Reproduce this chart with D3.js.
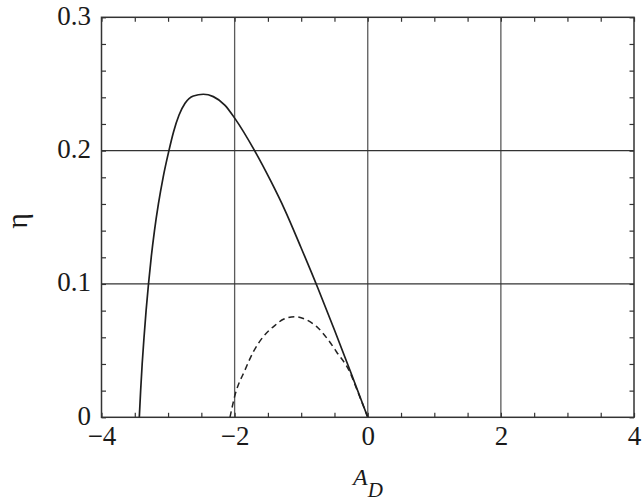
<!DOCTYPE html>
<html>
<head>
<meta charset="utf-8">
<script src="https://cdn.jsdelivr.net/npm/d3@7"></script>
<style>
  body { margin: 0; background: #fff; }
  svg { display: block; }
</style>
</head>
<body>
<svg id="chart" width="642" height="503"></svg>
<script>
// ---- data ----
const xMajorTicks = [-4, -2, 0, 2, 4];
const yMajorTicks = [0, 0.1, 0.2, 0.3];
const xGrid = [-2, 0, 2];
const yGrid = [0.1, 0.2];

// solid curve (A_D, eta)
const solidA = [-3.432, -3.412, -3.389, -3.361, -3.330, -3.294, -3.253, -3.204, -3.145, -3.074, -2.987, -2.918, -2.835, -2.745, -2.62, -2.47, -2.32, -2.144, -1.994, -1.70, -1.45, -1.25, -1.00, -0.75, -0.5, -0.25, 0];
const solidEta = [0, 0.02, 0.04, 0.06, 0.08, 0.10, 0.12, 0.14, 0.16, 0.18, 0.20, 0.214, 0.2267, 0.2355, 0.241, 0.2423, 0.2405, 0.234, 0.224, 0.20, 0.1765, 0.156, 0.127, 0.097, 0.0655, 0.033, 0];

// dashed curve (A_D, eta)
const dashA = [-2.07, -1.994, -1.844, -1.72, -1.569, -1.393, -1.268, -1.093, -0.917, -0.767, -0.593, -0.468, -0.265, -0.165, -0.065, 0];
const dashEta = [0, 0.0167, 0.0355, 0.049, 0.0605, 0.069, 0.0735, 0.0755, 0.073, 0.068, 0.058, 0.049, 0.0335, 0.021, 0.0084, 0];

// ---- layout ----
const FONT = '"Liberation Serif", "Times New Roman", Times, "DejaVu Serif", serif';
const svg = d3.select("#chart");
const L = 101.5, R = 634, T = 17.3, B = 417.3;
const x = d3.scaleLinear().domain([-4, 4]).range([L, R]);
const y = d3.scaleLinear().domain([0, 0.3]).range([B, T]);

const xMinor = d3.range(-4, 4.001, 0.5);
const yMinor = d3.range(0, 0.3001, 0.02);

// gridlines
svg.append("g").selectAll("line").data(xGrid).join("line")
  .attr("x1", d => x(d)).attr("x2", d => x(d)).attr("y1", T).attr("y2", B)
  .attr("stroke", "#5a5a5a").attr("stroke-width", 1.3);
svg.append("g").selectAll("line").data(yGrid).join("line")
  .attr("x1", L).attr("x2", R).attr("y1", d => y(d)).attr("y2", d => y(d))
  .attr("stroke", "#333").attr("stroke-width", 1.3);

// minor ticks (inward) on all sides
function styleTicks(g) {
  g.select(".domain").remove();
  g.selectAll("line").attr("stroke", "#333").attr("stroke-width", 1.2);
  g.selectAll("text").remove();
}
svg.append("g").attr("transform", `translate(0,${B})`)
  .call(d3.axisBottom(x).tickValues(xMinor).tickSize(-4.5).tickFormat("")).call(styleTicks);
svg.append("g").attr("transform", `translate(0,${T})`)
  .call(d3.axisTop(x).tickValues(xMinor).tickSize(-4.5).tickFormat("")).call(styleTicks);
svg.append("g").attr("transform", `translate(${L},0)`)
  .call(d3.axisLeft(y).tickValues(yMinor).tickSize(-4.5).tickFormat("")).call(styleTicks);
svg.append("g").attr("transform", `translate(${R},0)`)
  .call(d3.axisRight(y).tickValues(yMinor).tickSize(-4.5).tickFormat("")).call(styleTicks);

// major labels
const gx = svg.append("g").attr("transform", `translate(0,${B})`)
  .call(d3.axisBottom(x).tickValues(xMajorTicks).tickSize(0).tickPadding(8.5)
    .tickFormat(d => d3.format("d")(d)));
gx.select(".domain").remove();
gx.attr("font-family", null).attr("font-size", null);
gx.selectAll("text").style("font-family", FONT).style("font-size", "27px").attr("fill", "#1a1a1a");

const gy = svg.append("g").attr("transform", `translate(${L},0)`)
  .call(d3.axisLeft(y).tickValues(yMajorTicks).tickSize(0).tickPadding(10.5)
    .tickFormat(d => d === 0 ? "0" : d3.format(".1f")(d)));
gy.select(".domain").remove();
gy.attr("font-family", null).attr("font-size", null);
gy.selectAll("text").style("font-family", FONT).style("font-size", "27px").attr("fill", "#1a1a1a").attr("dy", "0.25em");

// curves
const solid = solidA.map((a, i) => [a, solidEta[i]]);
const dashed = dashA.map((a, i) => [a, dashEta[i]]);
const line = d3.line().x(d => x(d[0])).y(d => y(d[1])).curve(d3.curveMonotoneX);

svg.append("path").datum(dashed).attr("d", line)
  .attr("fill", "none").attr("stroke", "#222").attr("stroke-width", 1.5)
  .attr("stroke-dasharray", "6,4");
svg.append("path").datum(solid).attr("d", line)
  .attr("fill", "none").attr("stroke", "#1e1e1e").attr("stroke-width", 1.7);

// frame
svg.append("rect").attr("x", L).attr("y", T).attr("width", R - L).attr("height", B - T)
  .attr("fill", "none").attr("stroke", "#333").attr("stroke-width", 1.5);

// axis titles
svg.append("text").attr("transform", "translate(27,221) rotate(-90)")
  .attr("text-anchor", "middle").attr("fill", "#1a1a1a")
  .style("font-family", FONT).style("font-size", "30px").text("η");

const xt = svg.append("text").attr("x", 368).attr("y", 485).attr("text-anchor", "middle")
  .attr("fill", "#1a1a1a").style("font-family", FONT).style("font-size", "24px").style("font-style", "italic");
xt.append("tspan").text("A");
xt.append("tspan").attr("dy", 12).style("font-size", "21px").text("D");
</script>
</body>
</html>
